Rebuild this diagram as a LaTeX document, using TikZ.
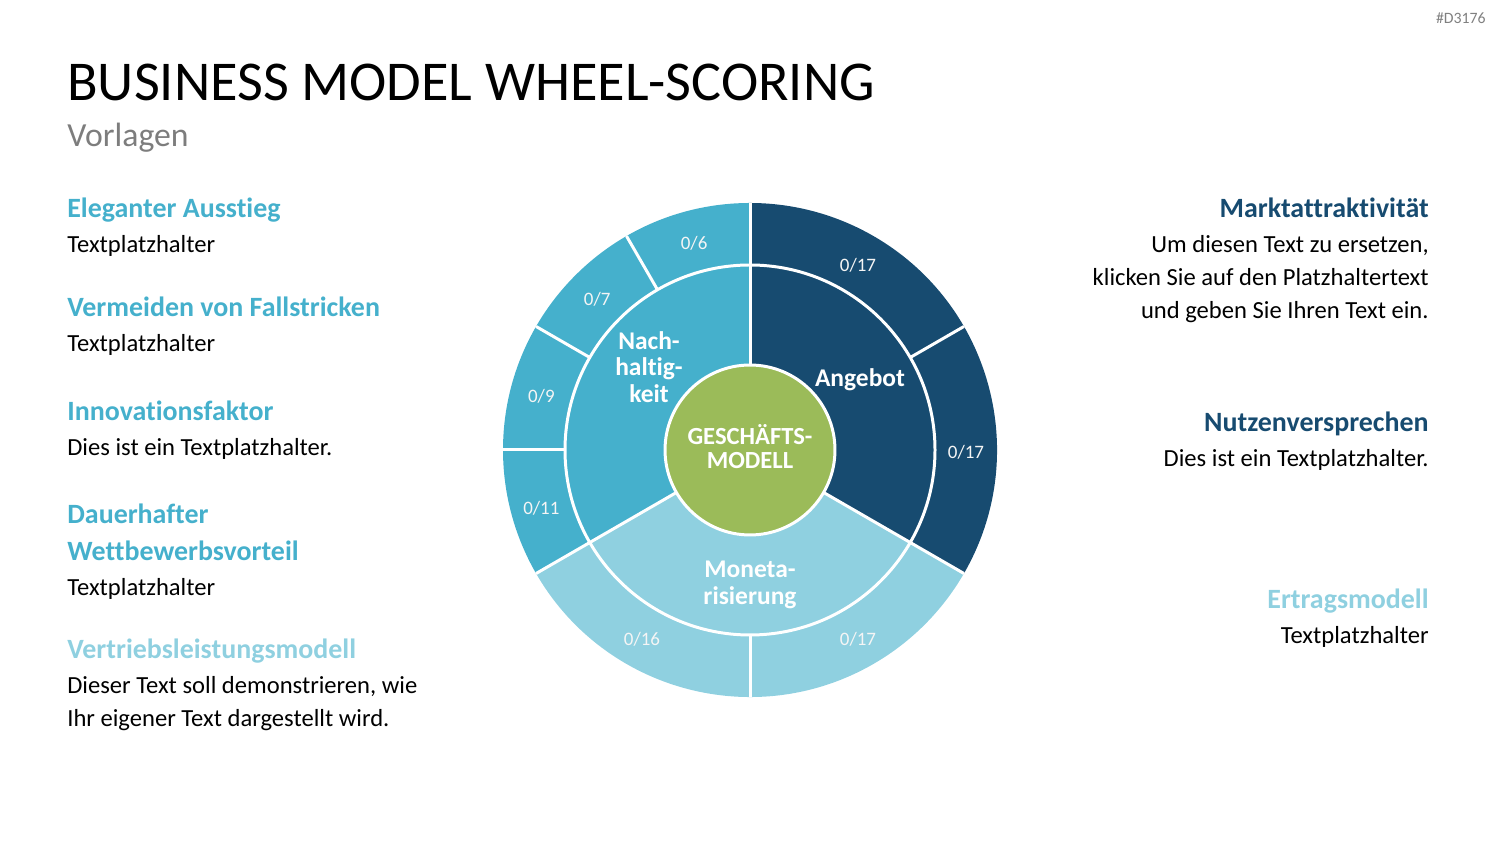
\documentclass[tikz,border=0pt]{standalone}
\usepackage{fontspec}
\setmainfont{Carlito}[Ligatures={NoCommon}]
\usetikzlibrary{positioning,calc}
\definecolor{wheelDark}{RGB}{23,75,112}
\definecolor{wheelMid}{RGB}{69,176,204}
\definecolor{wheelLight}{RGB}{143,208,224}
\definecolor{coreGreen}{RGB}{155,187,89}
\definecolor{subGray}{RGB}{125,125,125}

\begin{document}
\begin{tikzpicture}[x=0.02cm,y=0.02cm,
  head/.style={font=\fontsize{15.9}{20}\selectfont\bfseries,inner sep=0pt},
  body/.style={font=\fontsize{14}{18}\selectfont,inner sep=0pt,text=black},
  score/.style={font=\fontsize{10.8}{14}\selectfont,text=white!92!gray,inner sep=0pt},
  seg/.style={font=\fontsize{14.5}{15}\selectfont\bfseries,text=white,align=center,inner sep=0pt},
  gap/.style={draw=white,line width=1.7pt}
]
  \useasboundingbox (0,0) rectangle (1500,844);

  % titles
  \node[anchor=base west,inner sep=0pt,font=\fontsize{32}{40}\selectfont](title) at (67,743)
       {BUSINESS MODEL WHEEL-SCORING};
  \node[anchor=base west,inner sep=0pt,font=\fontsize{19.2}{24}\selectfont,text=subGray](sub) at (67,697)
       {Vorlagen};
  \node[anchor=base east,inner sep=0pt,font=\fontsize{9}{10}\selectfont,text=gray](code) at (1486,820)
       {\#D3176};

  % wheel
  \coordinate (c) at (750,394);
  \fill[wheelDark]  (c) -- ++(-30:247) arc (-30:90:247) -- cycle;
  \fill[wheelMid]   (c) -- ++(90:247) arc (90:210:247) -- cycle;
  \fill[wheelLight] (c) -- ++(210:247) arc (210:330:247) -- cycle;
  \draw[gap] (c) circle[radius=185];
  \foreach \a in {90,210,330}
    \draw[gap] (c) -- ($(c)+(\a:247)$);
  \foreach \a in {30,120,150,180,270}
    \draw[gap] ($(c)+(\a:185)$) -- ($(c)+(\a:247)$);
  \node[circle,fill=coreGreen,draw=white,line width=1.7pt,minimum size=3.4cm](core) at (c){};
  \node[font=\fontsize{14}{13.6}\selectfont\bfseries,text=white,align=center,inner sep=0pt]
       (coretext) at (750,397){GESCHÄFTS-\\MODELL};

  \node[seg](angebot) at (860,464){Angebot};
  \node[seg](nach)    at (649,477){Nach-\\haltig-\\keit};
  \node[seg](moneta)  at (750,259){Moneta-\\risierung};

  \foreach \a/\s [count=\i] in {60/17,0/17,300/17,240/16,195/11,165/9,135/7,105/6}
    \node[score](s\i) at ($(c)+(\a:216)+(0,-2)$){0/\s};

  % left column
  \node[head,text=wheelMid,anchor=base west](h1) at (67,626){Eleganter Ausstieg};
  \node[body,anchor=base west](t1) at (67,591){Textplatzhalter};
  \node[head,text=wheelMid,anchor=base west](h2) at (67,527){Vermeiden von Fallstricken};
  \node[body,anchor=base west](t2) at (67,492){Textplatzhalter};
  \node[head,text=wheelMid,anchor=base west](h3) at (67,423){Innovationsfaktor};
  \node[body,anchor=base west](t3) at (67,388){Dies ist ein Textplatzhalter.};
  \node[head,text=wheelMid,anchor=base west](h4a) at (67,320){Dauerhafter};
  \node[head,text=wheelMid,anchor=base west](h4b) at (67,283){Wettbewerbsvorteil};
  \node[body,anchor=base west](t4) at (67,248){Textplatzhalter};
  \node[head,text=wheelLight,anchor=base west](h5) at (67,185){Vertriebsleistungsmodell};
  \node[body,anchor=base west](t5a) at (67,150){Dieser Text soll demonstrieren, wie};
  \node[body,anchor=base west](t5b) at (67,117){Ihr eigener Text dargestellt wird.};

  % right column
  \node[head,text=wheelDark,anchor=base east](h6) at (1429,626){Marktattraktivität};
  \node[body,anchor=base east](t6a) at (1429,591){Um diesen Text zu ersetzen,};
  \node[body,anchor=base east](t6b) at (1429,558){klicken Sie auf den Platzhaltertext};
  \node[body,anchor=base east](t6c) at (1429,525){und geben Sie Ihren Text ein.};
  \node[head,text=wheelDark,anchor=base east](h7) at (1429,412){Nutzenversprechen};
  \node[body,anchor=base east](t7) at (1429,377){Dies ist ein Textplatzhalter.};
  \node[head,text=wheelLight,anchor=base east](h8) at (1429,235){Ertragsmodell};
  \node[body,anchor=base east](t8) at (1429,200){Textplatzhalter};
\end{tikzpicture}
\end{document}
